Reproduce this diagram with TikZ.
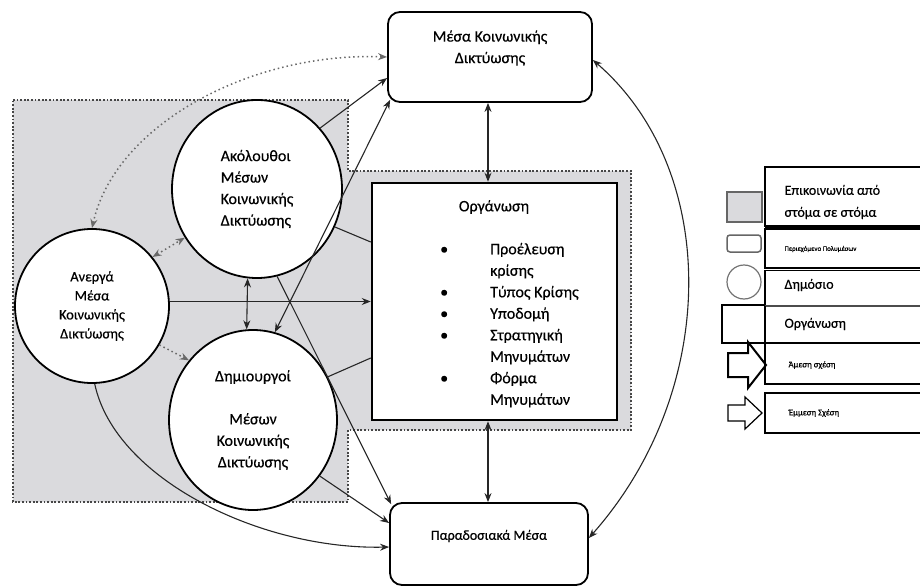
\documentclass[tikz,border=0pt]{standalone}
\usepackage{fontspec}
\setmainfont{Carlito}[FakeBold=0.4]
\usetikzlibrary{shapes.geometric,arrows.meta,calc}
\definecolor{shade}{RGB}{218,218,221}
\definecolor{dotgray}{RGB}{70,70,70}
\definecolor{dotlinkgray}{RGB}{105,105,105}
\newcommand{\heavy}{\addfontfeatures{FakeBold=0.35}}
\newcommand{\txtbig}{\fontsize{16}{21.5}\selectfont\heavy}
\newcommand{\txtmid}{\fontsize{14.5}{19}\selectfont\heavy}
\newcommand{\txtbox}{\fontsize{14}{19}\selectfont\heavy}
\newcommand{\txtleg}{\fontsize{14}{22}\selectfont\heavy}
\newcommand{\txtsmall}{\fontsize{8.8}{11}\selectfont\heavy}
\newcommand{\txttiny}{\fontsize{7}{8}\selectfont}
\begin{document}
\begin{tikzpicture}[x=1pt,y=-1pt,
  >={Stealth[length=9pt,width=7pt]},
  link/.style={line width=1.1pt, draw=black!85},
  dotlink/.style={line width=1.5pt, draw=dotlinkgray, dash pattern=on 1.5pt off 3pt},
  region/.style={line width=1.6pt, draw=dotgray, dash pattern=on 1.8pt off 1.8pt},
  actor/.style={ellipse, draw, line width=1.8pt, fill=white, inner sep=0pt},
  media/.style={draw, line width=1.8pt, rounded corners=12pt, fill=white, inner sep=0pt},
  legbox/.style={draw, line width=1.4pt},
  blockarrow/.style={draw, line join=miter, fill=white}]
\useasboundingbox (0,0) rectangle (920,588);

% shaded word-of-mouth region
\path[fill=shade] (13,100) -- (348,100) -- (348,171) -- (631,171) -- (631,430)
  -- (348,430) -- (348,502) -- (13,502) -- cycle;
\path[region] (13,100) -- (348,100) -- (348,171) -- (631,171) -- (631,430)
  -- (348,430) -- (348,502) -- (13,502) -- cycle;

% media boxes
\node[media, minimum width=204pt, minimum height=90pt] (smk) at (490,57) {};
\node[font=\txtbig, align=center] (smktext) at (490,48) {Μέσα Κοινωνικής\\Δικτύωσης};
\node[media, minimum width=198pt, minimum height=82pt] (trad) at (489,544) {};
\node[font=\txtbox] (tradtext) at (489,536) {Παραδοσιακά Μέσα};

% organisation box
\node[draw, line width=2.5pt, fill=white, minimum width=245pt, minimum height=237pt, inner sep=0pt] (org) at (494.5,301.5) {};
\node[font=\txtbig] (orgtitle) at (494,207) {Οργάνωση};
\node[font=\txtbig, anchor=north west, inner sep=0pt] (orglist) at (440,239) {%
  \begin{tabular}{@{}p{50pt}@{}l@{}}
  \textbullet & Προέλευση\\
              & κρίσης\\
  \textbullet & Τύπος Κρίσης\\
  \textbullet & Υποδομή\\
  \textbullet & Στρατηγική\\
              & Μηνυμάτων\\
  \textbullet & Φόρμα\\
              & Μηνυμάτων
  \end{tabular}};

% publics
\node[actor, minimum width=170pt, minimum height=178pt, align=left, font=\txtbig] (fol) at (257,189)
  {Ακόλουθοι\\Μέσων\\Κοινωνικής\\Δικτύωσης};
\node[actor, minimum width=168pt, minimum height=180pt, align=center, font=\txtbig] (dim) at (253,420)
  {Δημιουργοί\\[21.5pt]Μέσων\\Κοινωνικής\\Δικτύωσης};
\node[actor, minimum width=154pt, minimum height=154pt, align=center, font=\txtmid] (ane) at (92,306)
  {Ανεργά\\Μέσα\\Κοινωνικής\\Δικτύωσης};

\coordinate (vx) at (488,0);

% indirect relations
\draw[dotlink,<->] (ane.north) .. controls (115,125) and (250,52) .. (smk.west);
\draw[dotlink,<->] (ane.39) -- (fol.214);
\draw[dotlink,->] (ane.-30) -- (dim.137);

% direct relations
\draw[link,->] (fol.44) -- ([yshift=-21pt]smk.west);
\draw[link,<->] (dim.76) -- ([shift={(3pt,3pt)}]smk.south west);
\draw[link,->] (fol.-77) -- ([shift={(2pt,-2pt)}]trad.north west);
\draw[link,<->] (fol.-96) -- (dim.94);
\draw[link,->] (ane.east |- org.west) -- (org.west);
\draw[link] (fol.-26) -- ([yshift=59.5pt]org.west);
\draw[link] (dim.30) -- ([yshift=-56.5pt]org.west);
\draw[link,->] (dim.-40) -- ([yshift=21pt]trad.west);
\draw[link,->] (ane.-88) .. controls +(20,95) and +(-128,3) .. ([yshift=-3pt]trad.west);
\draw[link,<->] (vx |- smk.south) -- (vx |- org.north);
\draw[link,<->] (vx |- org.south) -- (vx |- trad.north);
\draw[link,<->] ([yshift=-3pt]smk.east) .. controls (720,170) and (720,390) .. ([yshift=6pt]trad.east);

% legend symbols
\path[fill=shade, draw=black!60, line width=1.5pt] (727,192) rectangle (762,222);
\draw[black!60, line width=1.5pt, rounded corners=3pt] (727,235) rectangle (761,252);
\draw[black!55, line width=1.2pt] (744,282) circle[radius=17];
\draw[line width=1.8pt] (722,305) rectangle (765,343);
\path[blockarrow, line width=2pt] (728,353) -- (748,353) -- (748,342) -- (766,365)
  -- (748,388) -- (748,377) -- (728,377) -- cycle;
\path[blockarrow, line width=1.2pt] (728,405) -- (745,405) -- (745,397) -- (762,413)
  -- (745,429) -- (745,421) -- (728,421) -- cycle;

% legend entries
\draw[legbox] (765,167) rectangle (925,226);
\draw[line width=3pt] (765,227.5) -- (925,227.5);
\draw[legbox] (765,229) rectangle (925,268);
\draw[legbox] (765,270.5) -- (925,270.5);
\draw[legbox] (765,270) -- (765,306);
\draw[line width=1.2pt, black!70] (765,306) -- (925,306);
\draw[legbox] (765,306) -- (765,343);
\draw[line width=2.4pt] (765,343) -- (925,343);
\draw[legbox] (765,343) rectangle (925,384);
\draw[legbox] (765,393) rectangle (925,433);

\node[font=\txtleg, align=left, anchor=west] (lg1) at (781,202) {Επικοινωνία από\\στόμα σε στόμα};
\node[font=\txttiny, anchor=west] (lg2) at (781,249) {Περιεχόμενο Πολυμέσων};
\node[font=\txtleg, anchor=west] (lg3) at (781,285) {Δημόσιο};
\node[font=\txtleg, anchor=west] (lg4) at (781,324) {Οργάνωση};
\node[font=\txtsmall] (lg5) at (812,365) {Άμεση σχέση};
\node[font=\txtsmall] (lg6) at (814,413) {Έμμεση Σχέση};
\end{tikzpicture}
\end{document}
